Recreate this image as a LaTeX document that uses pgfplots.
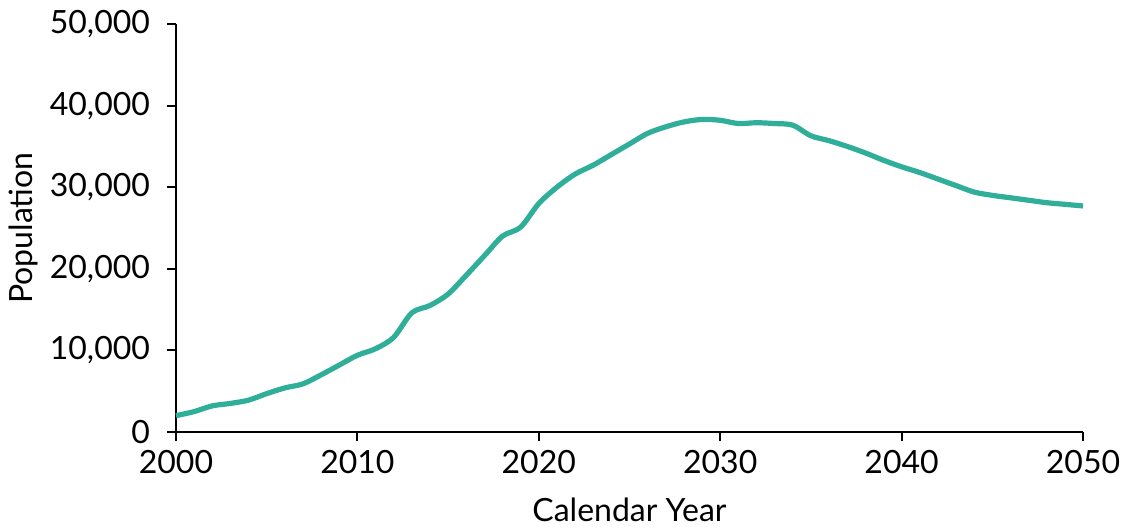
\documentclass[border=0pt]{standalone}
\usepackage{pgfplots}
\pgfplotsset{compat=1.18}
\usepackage{fontspec}
\setmainfont{Lato}
\definecolor{teal}{RGB}{47,174,154}

\pgfplotstableread{
year pop
2000 2000
2001 2500
2002 3200
2003 3500
2004 3900
2005 4700
2006 5400
2007 5900
2008 7000
2009 8200
2010 9400
2011 10200
2012 11600
2013 14600
2014 15500
2015 16900
2016 19200
2017 21600
2018 24000
2019 25100
2020 28000
2021 30000
2022 31600
2023 32700
2024 34000
2025 35300
2026 36600
2027 37400
2028 38000
2029 38300
2030 38200
2031 37800
2032 37900
2033 37800
2034 37600
2035 36300
2036 35700
2037 35000
2038 34200
2039 33300
2040 32500
2041 31800
2042 31000
2043 30200
2044 29400
2045 29000
2046 28700
2047 28400
2048 28100
2049 27900
2050 27700
}\popdata

\begin{document}
\begin{tikzpicture}
\begin{axis}[
    scale only axis,
    width=453.5pt, height=204pt,
    xmin=2000, xmax=2050,
    ymin=0, ymax=50000,
    xtick={2000,2010,...,2050},
    ytick={0,10000,...,50000},
    axis lines*=left,
    axis line style={line width=1pt},
    tick style={black, line width=1pt},
    tick align=outside,
    major tick length=4.5pt,
    font=\fontsize{16pt}{18pt}\selectfont,
    /pgf/number format/assume math mode=true,
    /pgf/number format/1000 sep={,},
    xticklabel style={/pgf/number format/1000 sep=, yshift=-1pt},
    yticklabel style={xshift=-5pt},
    scaled y ticks=false,
    xlabel={Calendar Year},
    ylabel={Population},
    xlabel style={at={(axis description cs:0.5,-0.192)}, anchor=center},
    ylabel style={at={(axis description cs:-0.168,0.5)}, anchor=center, rotate=0},
    clip=false,
]
\addplot[teal, line width=2.6pt, smooth, tension=0.5] table[x=year, y=pop] {\popdata};
\end{axis}
\pgfresetboundingbox
\useasboundingbox ([shift={(-88pt,-49.5pt)}]current axis.south west) rectangle ([shift={(20.5pt,12pt)}]current axis.north east);
\end{tikzpicture}
\end{document}
